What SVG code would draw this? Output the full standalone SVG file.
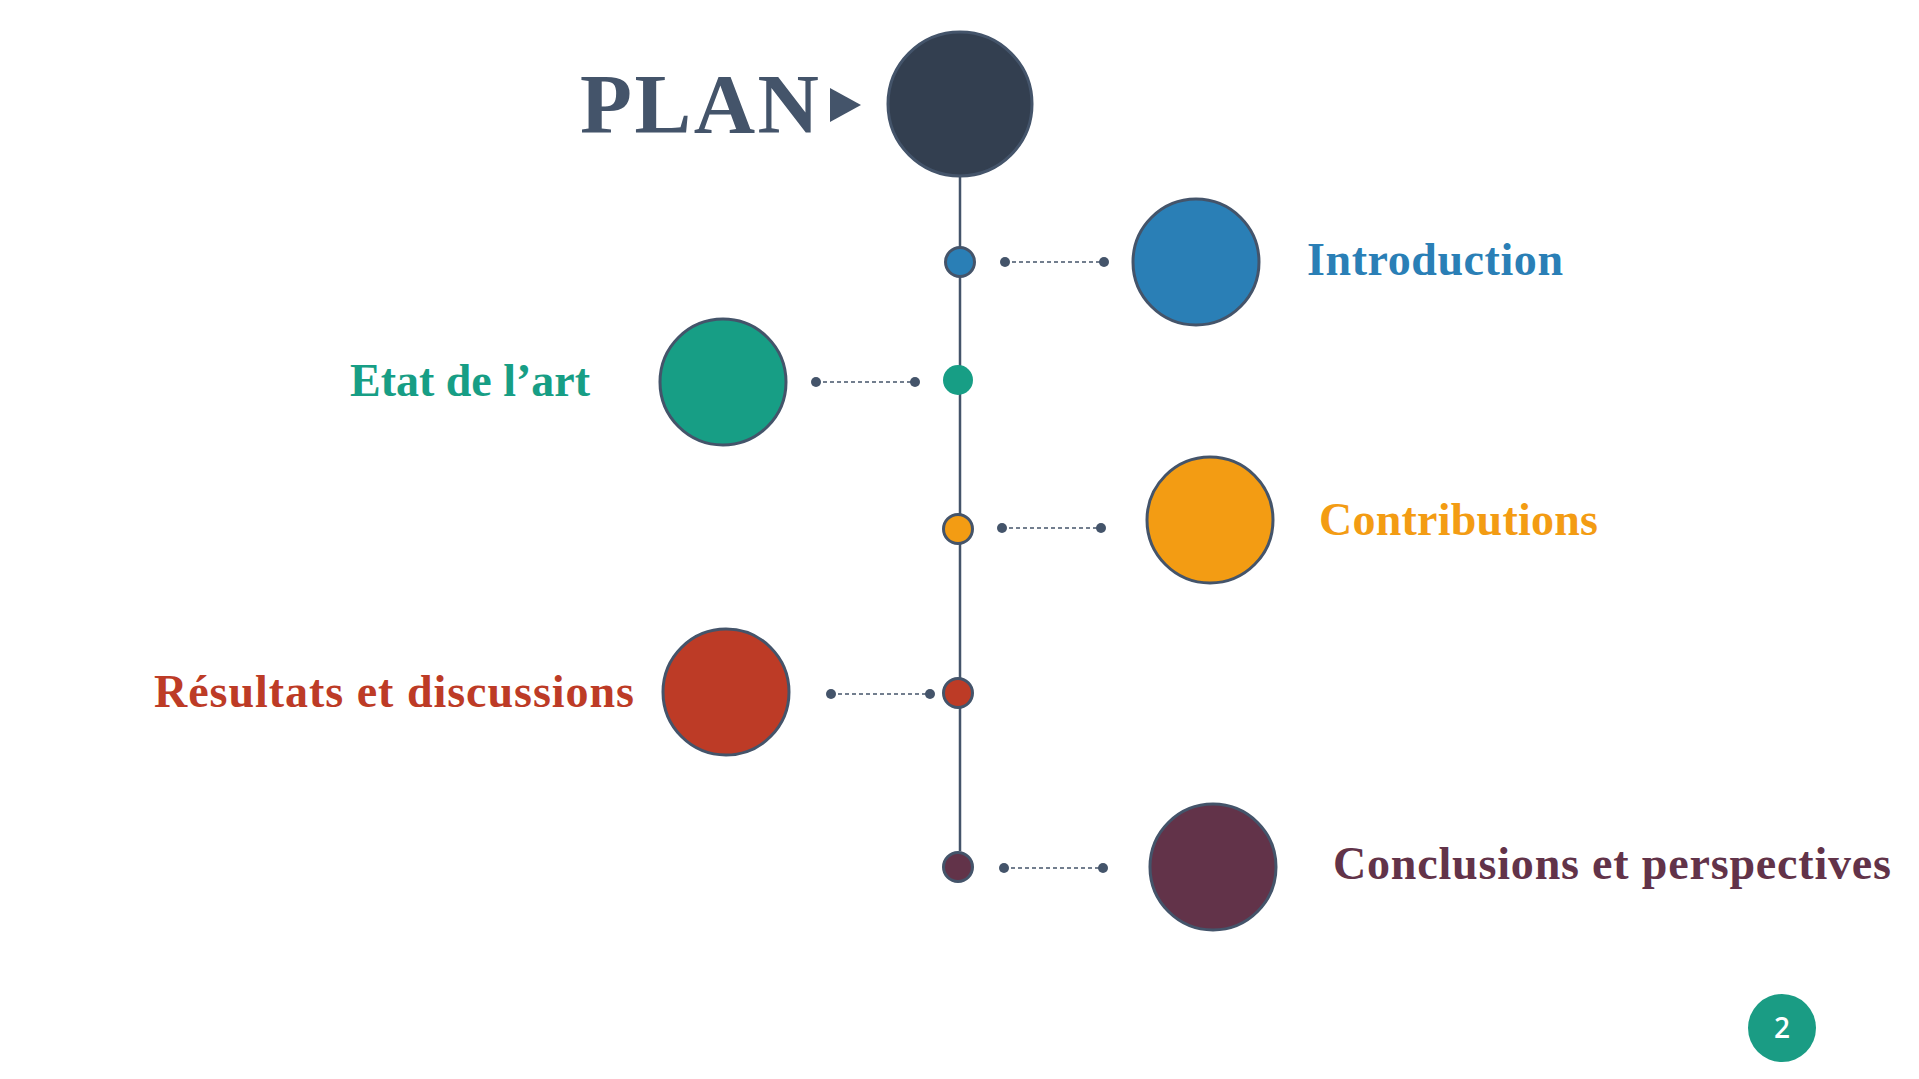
<svg xmlns="http://www.w3.org/2000/svg" width="1919" height="1079" viewBox="0 0 1919 1079">
<style>
.lbl{font-family:"Liberation Serif","Times New Roman",serif;font-weight:bold;font-size:46px}
.big{stroke:#44546a;stroke-width:3}
.sm{stroke:#44546a;stroke-width:3}
.dot{fill:#44546a}
.dash{stroke:#44546a;stroke-width:1.5;stroke-dasharray:4 3;fill:none}
</style>
<rect width="1919" height="1079" fill="#ffffff"/>
<g id="connectors">
<line x1="960" y1="177" x2="960" y2="851" stroke="#44546a" stroke-width="2.5"/>
<line class="dash" x1="1005" y1="262" x2="1104" y2="262"/>
<circle class="dot" cx="1005" cy="262" r="5"/><circle class="dot" cx="1104" cy="262" r="5"/>
<line class="dash" x1="816" y1="382" x2="915" y2="382"/>
<circle class="dot" cx="816" cy="382" r="5"/><circle class="dot" cx="915" cy="382" r="5"/>
<line class="dash" x1="1002" y1="528" x2="1101" y2="528"/>
<circle class="dot" cx="1002" cy="528" r="5"/><circle class="dot" cx="1101" cy="528" r="5"/>
<line class="dash" x1="831" y1="694" x2="930" y2="694"/>
<circle class="dot" cx="831" cy="694" r="5"/><circle class="dot" cx="930" cy="694" r="5"/>
<line class="dash" x1="1004" y1="868" x2="1103" y2="868"/>
<circle class="dot" cx="1004" cy="868" r="5"/><circle class="dot" cx="1103" cy="868" r="5"/>
</g>
<g id="plan">
<text x="580" y="133" font-family="'Liberation Serif','Times New Roman',serif" font-weight="bold" font-size="85" fill="#44546a" textLength="239">PLAN</text>
<polygon points="830,88 861,105 830,122" fill="#44546a"/>
<circle cx="960" cy="104" r="72" fill="#333f50" class="big"/>
</g>
<g id="introduction">
<circle cx="960" cy="262" r="14.5" fill="#2a7fb6" class="sm"/>
<circle cx="1196" cy="262" r="63" fill="#2a7fb6" class="big"/>
<text x="1307" y="275" class="lbl" fill="#2a7fb6" textLength="256">Introduction</text>
</g>
<g id="etat">
<circle cx="958" cy="380" r="15" fill="#179e85"/>
<circle cx="723" cy="382" r="63" fill="#179e85" class="big"/>
<text x="350" y="396" class="lbl" fill="#179e85" textLength="240">Etat de l’art</text>
</g>
<g id="contributions">
<circle cx="958" cy="529" r="14.5" fill="#f39c13" class="sm"/>
<circle cx="1210" cy="520" r="63" fill="#f39c13" class="big"/>
<text x="1319" y="535" class="lbl" fill="#f39c13" textLength="279">Contributions</text>
</g>
<g id="resultats">
<circle cx="958" cy="693" r="14.5" fill="#bd3b26" class="sm"/>
<circle cx="726" cy="692" r="63" fill="#bd3b26" class="big"/>
<text x="154" y="707" class="lbl" fill="#bd3b26" textLength="480">Résultats et discussions</text>
</g>
<g id="conclusions">
<circle cx="958" cy="867" r="14.5" fill="#623349" class="sm"/>
<circle cx="1213" cy="867" r="63" fill="#623349" class="big"/>
<text x="1333" y="879" class="lbl" fill="#623349" textLength="558">Conclusions et perspectives</text>
</g>
<g id="page">
<circle cx="1782" cy="1028" r="34" fill="#1a9c84"/>
<text x="1782" y="1038" text-anchor="middle" font-family="'Open Sans','Noto Sans',sans-serif" font-weight="600" font-size="28" fill="#ffffff">2</text>
</g>
</svg>
